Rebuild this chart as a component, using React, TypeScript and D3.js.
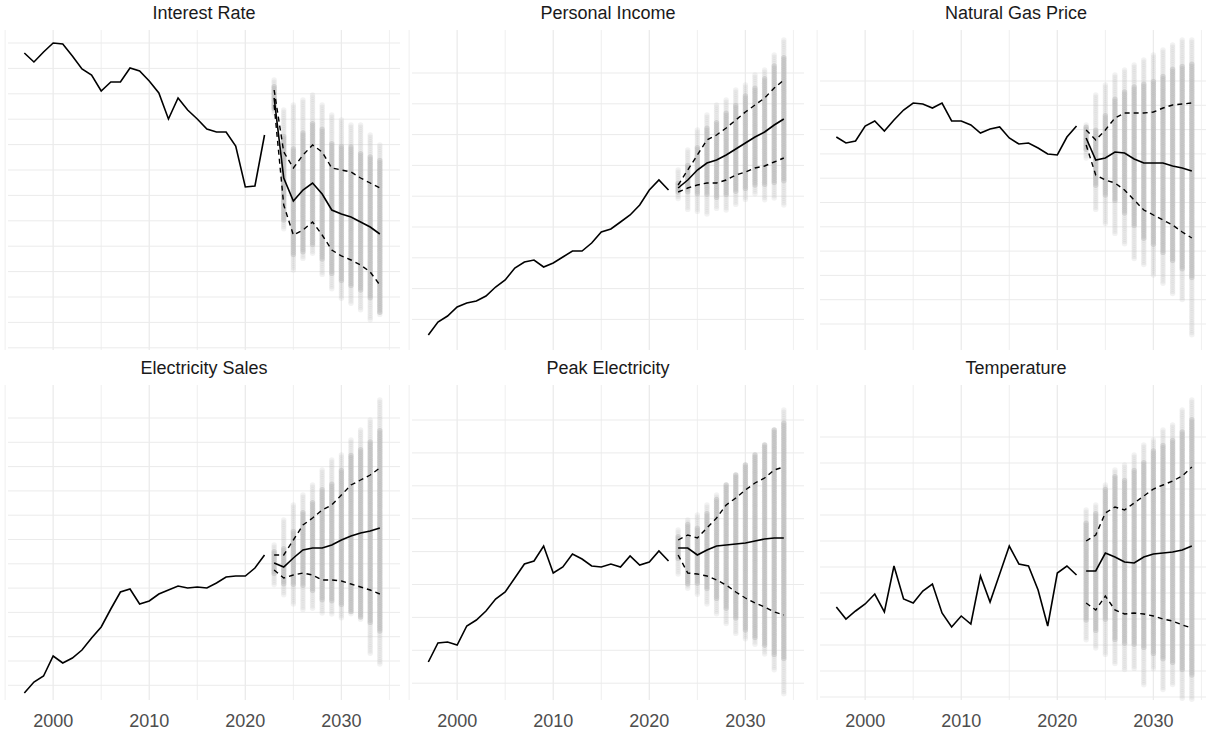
import React from "react";
import * as d3 from "d3";

// Values in each panel's own index units (larger = lower on screen)
const histYears = d3.range(1997, 2023);
const fcYears = d3.range(2023, 2035);

const titles = ["Interest Rate", "Personal Income", "Natural Gas Price", "Electricity Sales", "Peak Electricity", "Temperature"];

const histValues = [
  [53, 62, 52, 43, 44, 56, 69, 75, 91, 82, 82, 68, 71, 81, 93, 119, 98, 110, 119, 129, 132, 132, 146, 187, 186, 135],
  [335, 322, 316, 307, 303, 301, 296, 287, 280, 268, 262, 260, 267, 263, 257, 251, 251, 243, 232, 229, 222, 215, 205, 190, 180, 190],
  [137, 143, 141, 126, 121, 131, 120, 110, 103, 104, 108, 103, 121, 121, 125, 133, 129, 127, 138, 144, 143, 148, 154, 155, 137, 126],
  [693, 682, 676, 656, 663, 658, 650, 638, 627, 609, 592, 589, 604, 601, 594, 590, 586, 588, 587, 588, 583, 577, 576, 576, 568, 555],
  [662, 643, 642, 645, 626, 620, 611, 599, 592, 578, 564, 561, 546, 573, 567, 554, 559, 566, 567, 564, 567, 556, 565, 562, 551, 561],
  [607, 619, 611, 604, 594, 612, 566, 599, 603, 591, 584, 613, 627, 616, 624, 576, 602, 574, 546, 564, 566, 590, 626, 573, 566, 575],
];

const medianValues = [
  [98, 178, 201, 190, 183, 194, 210, 214, 217, 222, 227, 234],
  [188, 180, 170, 163, 160, 155, 149, 143, 137, 132, 125, 119],
  [138, 160, 158, 152, 153, 159, 163, 163, 163, 166, 168, 171],
  [563, 567, 558, 550, 548, 548, 545, 540, 536, 533, 531, 528],
  [548, 548, 555, 550, 546, 545, 544, 543, 541, 539, 538, 538],
  [571, 571, 553, 557, 562, 563, 557, 554, 553, 552, 550, 546],
];

const upperValues = [
  [90, 152, 168, 155, 145, 152, 168, 170, 172, 178, 183, 188],
  [185, 170, 155, 140, 135, 128, 120, 112, 105, 98, 88, 80],
  [130, 140, 130, 118, 113, 113, 113, 112, 108, 105, 104, 103],
  [555, 555, 540, 525, 518, 510, 505, 495, 485, 480, 475, 468],
  [540, 535, 538, 528, 518, 505, 498, 490, 483, 478, 470, 467],
  [541, 535, 513, 507, 510, 503, 496, 489, 485, 481, 476, 467],
];

const lowerValues = [
  [105, 205, 235, 230, 222, 235, 250, 256, 260, 265, 272, 285],
  [192, 188, 185, 183, 183, 180, 175, 172, 168, 166, 162, 158],
  [145, 175, 180, 183, 190, 200, 210, 215, 220, 225, 232, 238],
  [570, 578, 575, 573, 575, 580, 580, 581, 584, 587, 590, 594],
  [555, 573, 574, 576, 580, 585, 592, 598, 603, 607, 612, 615],
  [603, 610, 596, 610, 614, 613, 614, 616, 619, 621, 625, 628],
];

const cloudMin = [
  [80, 110, 105, 100, 95, 105, 115, 120, 125, 125, 135, 145],
  [170, 150, 130, 115, 105, 100, 90, 85, 75, 70, 55, 40],
  [125, 95, 85, 75, 70, 65, 60, 55, 50, 45, 40, 40],
  [545, 520, 505, 495, 485, 470, 460, 455, 440, 430, 420, 400],
  [530, 520, 515, 505, 495, 485, 475, 465, 455, 445, 430, 410],
  [510, 505, 485, 470, 465, 455, 445, 440, 430, 425, 410, 400],
];
const cloudMax = [
  [115, 230, 270, 260, 255, 275, 290, 300, 305, 310, 320, 315],
  [200, 210, 212, 215, 210, 210, 205, 200, 195, 200, 200, 205],
  [160, 210, 225, 235, 245, 260, 265, 275, 285, 295, 300, 335],
  [585, 595, 605, 610, 610, 615, 615, 620, 615, 620, 655, 665],
  [575, 590, 595, 605, 615, 625, 635, 640, 645, 655, 670, 695],
  [640, 650, 655, 665, 670, 670, 685, 670, 690, 685, 700, 700],
];

const gridValues = [
  d3.range(43, 350, 25.4),
  d3.range(73, 330, 30.8),
  d3.range(81, 330, 24.3),
  d3.range(418, 700, 24.3),
  d3.range(420, 700, 32.9),
  d3.range(437, 700, 26),
];
const yDomains = [[350, 30], [350, 30], [350, 30], [700, 385], [700, 385], [700, 385]];
const xTicks = [2000, 2010, 2020, 2030];
const xGrid = d3.range(1995, 2040, 5);

const colLeft = [8, 412, 820];
const panelW = 392;
const rowTop = [30, 385];
const rowBottom = [350, 700];

function Panel({ i }: { i: number }) {
  const col = i % 3, row = Math.floor(i / 3);
  const left = colLeft[col];
  const x = d3.scaleLinear().domain([1995.3, 2036.1]).range([left, left + panelW]);
  const y = d3.scaleLinear().domain(yDomains[i]).range([rowBottom[row], rowTop[row]]);
  const line = d3.line<[number, number]>().x((d) => x(d[0])).y((d) => y(d[1]));
  const hist = histYears.map((yr, k) => [yr, histValues[i][k]] as [number, number]);
  const series = (arr: number[]) => fcYears.map((yr, k) => [yr, arr[k]] as [number, number]);

  const dots: { yr: number; v: number; core: boolean }[] = [];
  fcYears.forEach((yr, k) => {
    const lo = cloudMin[i][k], hi = cloudMax[i][k];
    const a = Math.min(upperValues[i][k], lowerValues[i][k]);
    const b = Math.max(upperValues[i][k], lowerValues[i][k]);
    const pad = (b - a) * 0.3;
    for (let v = lo; v <= hi; v += 2.2) {
      dots.push({ yr, v, core: v >= a - pad && v <= b + pad });
    }
  });

  return (
    <g>
      {gridValues[i].map((g) => (
        <line key={"h" + g} x1={left} x2={left + panelW} y1={y(g)} y2={y(g)} stroke="#ebebeb" strokeWidth={1} />
      ))}
      {xGrid.map((g) => (
        <line key={"v" + g} x1={x(g)} x2={x(g)} y1={rowTop[row]} y2={rowBottom[row]} stroke="#ebebeb" strokeWidth={xTicks.includes(g) ? 1.3 : 0.8} />
      ))}
      <text x={left + panelW / 2} y={rowTop[row] - 11} textAnchor="middle" fontSize={18} fill="#1a1a1a" fontFamily="Liberation Sans, Arial, sans-serif">
        {titles[i]}
      </text>
      {dots.map((d, k) => (
        <circle key={k} cx={x(d.yr)} cy={y(d.v)} r={2.7} fill="#bdbdbd" opacity={d.core ? 0.6 : 0.2} />
      ))}
      <path d={line(hist) || ""} fill="none" stroke="#000" strokeWidth={1.6} />
      <path d={line(series(medianValues[i])) || ""} fill="none" stroke="#000" strokeWidth={1.6} />
      <path d={line(series(upperValues[i])) || ""} fill="none" stroke="#000" strokeWidth={1.4} strokeDasharray="5,4" />
      <path d={line(series(lowerValues[i])) || ""} fill="none" stroke="#000" strokeWidth={1.4} strokeDasharray="5,4" />
      {row === 1 &&
        xTicks.map((t) => (
          <text key={t} x={x(t)} y={727} textAnchor="middle" fontSize={18} fill="#4d4d4d" fontFamily="Liberation Sans, Arial, sans-serif">
            {t}
          </text>
        ))}
    </g>
  );
}

export default function App() {
  return (
    <svg width={1206} height={736} style={{ position: "absolute", left: 0, top: 0, background: "#fff" }}>
      {titles.map((_, i) => (
        <Panel key={i} i={i} />
      ))}
    </svg>
  );
}
